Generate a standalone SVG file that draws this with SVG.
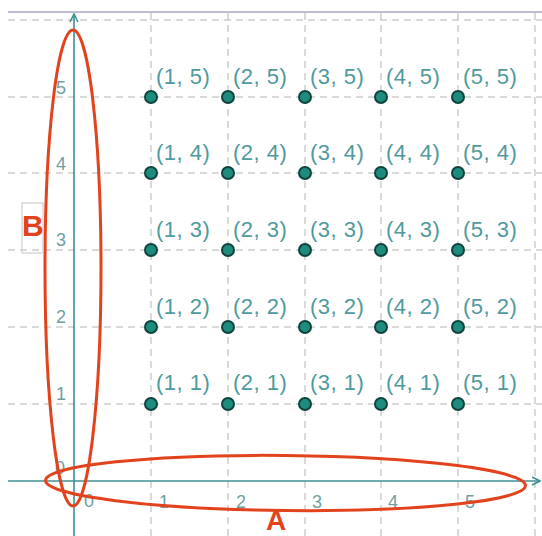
<svg xmlns="http://www.w3.org/2000/svg" width="542" height="536" viewBox="0 0 542 536">
<style>
.grid{stroke:#b4b4b4;stroke-width:1;stroke-dasharray:7 5;fill:none}
.axis{stroke:#3f8f94;stroke-width:1.6;fill:none}
.tick{font-family:"Liberation Sans",Arial,sans-serif;font-size:18px;fill:#6f9ea2}
.lbl{font-family:"Liberation Sans",Arial,sans-serif;font-size:22px;fill:#4f9a9c;letter-spacing:0.5px}
.pt{fill:#1d8c7e;stroke:#10433e;stroke-width:2}
.ell{fill:none;stroke:#e2431d;stroke-width:3}
.big{font-family:"Liberation Sans",Arial,sans-serif;font-weight:bold;font-size:30px;fill:#e2431d}
</style>
<defs>
<marker id="arr" viewBox="0 0 10 10" refX="9" refY="5" markerWidth="10" markerHeight="10" markerUnits="userSpaceOnUse" orient="auto">
<path d="M1,1 L9,5 L1,9" fill="none" stroke="#3f8f94" stroke-width="1.6"/>
</marker>
</defs>
<rect width="542" height="536" fill="#ffffff"/>
<line x1="8" y1="12" x2="542" y2="12" stroke="#a9a7c4" stroke-width="1.5"/>
<g id="grid">
<line class="grid" x1="8" y1="20" x2="542" y2="20"/>
<line class="grid" x1="8" y1="97" x2="542" y2="97"/>
<line class="grid" x1="8" y1="173" x2="542" y2="173"/>
<line class="grid" x1="8" y1="250" x2="542" y2="250"/>
<line class="grid" x1="8" y1="327" x2="542" y2="327"/>
<line class="grid" x1="8" y1="404" x2="542" y2="404"/>
<line class="grid" x1="151" y1="13" x2="151" y2="536"/>
<line class="grid" x1="228" y1="13" x2="228" y2="536"/>
<line class="grid" x1="305" y1="13" x2="305" y2="536"/>
<line class="grid" x1="381" y1="13" x2="381" y2="536"/>
<line class="grid" x1="458" y1="13" x2="458" y2="536"/>
<line class="grid" x1="535" y1="13" x2="535" y2="536"/>
</g>
<g id="axes">
<line class="axis" x1="74" y1="536" x2="74" y2="14" marker-end="url(#arr)"/>
<line class="axis" x1="8" y1="481" x2="540" y2="481" marker-end="url(#arr)"/>
<text class="tick" x="66" y="94" text-anchor="end">5</text>
<text class="tick" x="66" y="170" text-anchor="end">4</text>
<text class="tick" x="66" y="246" text-anchor="end">3</text>
<text class="tick" x="66" y="323" text-anchor="end">2</text>
<text class="tick" x="66" y="400" text-anchor="end">1</text>
<text class="tick" x="65" y="474" text-anchor="end">0</text>
<text class="tick" x="84" y="507">0</text>
<text class="tick" x="159" y="508">1</text>
<text class="tick" x="236" y="508">2</text>
<text class="tick" x="312" y="508">3</text>
<text class="tick" x="388" y="508">4</text>
<text class="tick" x="465" y="508">5</text>
</g>
<g id="points">
<g id="p15"><circle class="pt" cx="151" cy="97" r="6"/><text class="lbl" x="156" y="84">(1, 5)</text></g>
<g id="p25"><circle class="pt" cx="228" cy="97" r="6"/><text class="lbl" x="233" y="84">(2, 5)</text></g>
<g id="p35"><circle class="pt" cx="305" cy="97" r="6"/><text class="lbl" x="310" y="84">(3, 5)</text></g>
<g id="p45"><circle class="pt" cx="381" cy="97" r="6"/><text class="lbl" x="386" y="84">(4, 5)</text></g>
<g id="p55"><circle class="pt" cx="458" cy="97" r="6"/><text class="lbl" x="463" y="84">(5, 5)</text></g>
<g id="p14"><circle class="pt" cx="151" cy="173" r="6"/><text class="lbl" x="156" y="160">(1, 4)</text></g>
<g id="p24"><circle class="pt" cx="228" cy="173" r="6"/><text class="lbl" x="233" y="160">(2, 4)</text></g>
<g id="p34"><circle class="pt" cx="305" cy="173" r="6"/><text class="lbl" x="310" y="160">(3, 4)</text></g>
<g id="p44"><circle class="pt" cx="381" cy="173" r="6"/><text class="lbl" x="386" y="160">(4, 4)</text></g>
<g id="p54"><circle class="pt" cx="458" cy="173" r="6"/><text class="lbl" x="463" y="160">(5, 4)</text></g>
<g id="p13"><circle class="pt" cx="151" cy="250" r="6"/><text class="lbl" x="156" y="237">(1, 3)</text></g>
<g id="p23"><circle class="pt" cx="228" cy="250" r="6"/><text class="lbl" x="233" y="237">(2, 3)</text></g>
<g id="p33"><circle class="pt" cx="305" cy="250" r="6"/><text class="lbl" x="310" y="237">(3, 3)</text></g>
<g id="p43"><circle class="pt" cx="381" cy="250" r="6"/><text class="lbl" x="386" y="237">(4, 3)</text></g>
<g id="p53"><circle class="pt" cx="458" cy="250" r="6"/><text class="lbl" x="463" y="237">(5, 3)</text></g>
<g id="p12"><circle class="pt" cx="151" cy="327" r="6"/><text class="lbl" x="156" y="314">(1, 2)</text></g>
<g id="p22"><circle class="pt" cx="228" cy="327" r="6"/><text class="lbl" x="233" y="314">(2, 2)</text></g>
<g id="p32"><circle class="pt" cx="305" cy="327" r="6"/><text class="lbl" x="310" y="314">(3, 2)</text></g>
<g id="p42"><circle class="pt" cx="381" cy="327" r="6"/><text class="lbl" x="386" y="314">(4, 2)</text></g>
<g id="p52"><circle class="pt" cx="458" cy="327" r="6"/><text class="lbl" x="463" y="314">(5, 2)</text></g>
<g id="p11"><circle class="pt" cx="151" cy="404" r="6"/><text class="lbl" x="156" y="390">(1, 1)</text></g>
<g id="p21"><circle class="pt" cx="228" cy="404" r="6"/><text class="lbl" x="233" y="390">(2, 1)</text></g>
<g id="p31"><circle class="pt" cx="305" cy="404" r="6"/><text class="lbl" x="310" y="390">(3, 1)</text></g>
<g id="p41"><circle class="pt" cx="381" cy="404" r="6"/><text class="lbl" x="386" y="390">(4, 1)</text></g>
<g id="p51"><circle class="pt" cx="458" cy="404" r="6"/><text class="lbl" x="463" y="390">(5, 1)</text></g>
</g>
<g id="setB">
<ellipse class="ell" cx="73" cy="268" rx="28" ry="238"/>
<rect x="22" y="203" width="21" height="50" fill="none" stroke="#c4c4c4" stroke-width="1"/>
<text class="big" x="22" y="236">B</text>
</g>
<g id="setA">
<ellipse class="ell" cx="285.5" cy="483" rx="240" ry="27.5" transform="rotate(0.6 285.5 483)"/>
<text class="big" x="266" y="530" style="font-size:28px">A</text>
</g>
</svg>
